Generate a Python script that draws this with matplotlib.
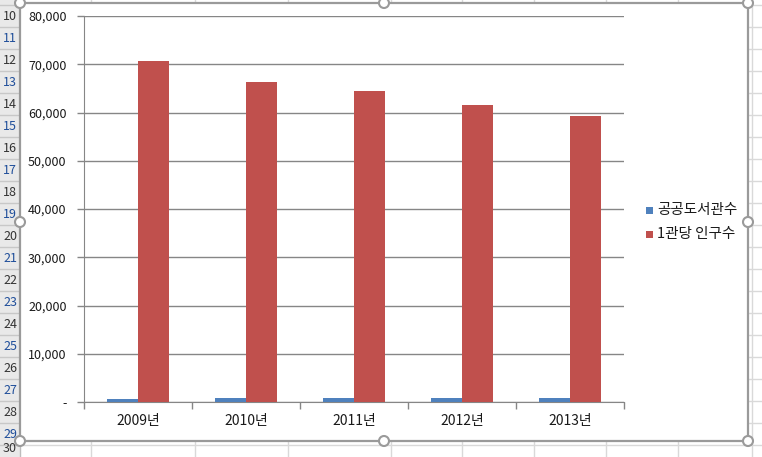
import matplotlib
matplotlib.use("Agg")
import matplotlib.pyplot as plt
from matplotlib.patches import Rectangle, Circle
from matplotlib.lines import Line2D
import numpy as np

plt.rcParams['font.family'] = ['Noto Sans CJK KR', 'DejaVu Sans']

categories = ['2009년', '2010년', '2011년', '2012년', '2013년']
libraries = [703, 759, 786, 828, 865]
pop_per_library = [70670, 66390, 64550, 61490, 59245]
series_names = ['공공도서관수', '1관당 인구수']
colors = ['#4F81BD', '#C0504D']
yticks = [0, 10000, 20000, 30000, 40000, 50000, 60000, 70000, 80000]
row_numbers = list(range(10, 31))

W, H = 762, 457
fig = plt.figure(figsize=(W / 100, H / 100), dpi=100)
fig.patch.set_facecolor('white')

# background layer in pixel coordinates (y downward)
bg = fig.add_axes([0, 0, 1, 1])
bg.set_xlim(0, W)
bg.set_ylim(H, 0)
bg.axis('off')

# spreadsheet cell grid
cell_grid = '#d9d9d9'
for x in [91, 195, 288, 391, 462, 534, 606, 678, 752]:
    bg.add_line(Line2D([x, x], [0, H], color=cell_grid, lw=1, zorder=0))
for i in range(len(row_numbers) + 1):
    y = 5 + 22 * i
    bg.add_line(Line2D([0, W], [y, y], color=cell_grid, lw=1, zorder=0))

# row header column
bg.add_patch(Rectangle((0, 0), 20, H, facecolor='#e9e9e9', edgecolor='none', zorder=1))
bg.add_line(Line2D([20, 20], [0, H], color='#bdbdbd', lw=1, zorder=2))
for i, r in enumerate(row_numbers):
    y0 = 5 + 22 * i
    bg.add_line(Line2D([0, 20], [y0, y0], color='#c8c8c8', lw=1, zorder=2))
    yc = min(y0 + 11, H - 8)
    bg.text(17, yc, str(r), ha='right', va='center', fontsize=9,
            color='#1f4e9a' if i % 2 else '#333333', zorder=3, clip_on=True)

# chart area
bg.add_patch(Rectangle((20, 3), 728, 438, facecolor='white', edgecolor='#9a9a9a', lw=1.6, zorder=4))
for (hx, hy) in [(20, 3), (384, 3), (748, 3), (20, 222), (748, 222), (20, 441), (384, 441), (748, 441)]:
    bg.add_patch(Circle((hx, hy), 5, facecolor='white', edgecolor='#9a9a9a', lw=1.5, zorder=5))

# legend (manual, Excel style)
for k, (name, c) in enumerate(zip(series_names, colors)):
    ly = 210 + 24 * k
    bg.add_patch(Rectangle((646, ly - 3.5), 7, 7, facecolor=c, edgecolor='none', zorder=6))
    bg.text(657, ly, name, ha='left', va='center', fontsize=10.5, color='#1a1a1a', zorder=6)

# plot area
ax = fig.add_axes([84 / W, 1 - 402 / H, (624 - 84) / W, (402 - 16) / H])
ax.set_zorder(10)
ax.patch.set_alpha(0)

x = np.arange(len(categories))
bw = 1 / 3.5
ax.bar(x - bw / 2, libraries, width=bw, color=colors[0], zorder=3)
ax.bar(x + bw / 2, pop_per_library, width=bw, color=colors[1], zorder=3)

ax.set_xlim(-0.5, len(categories) - 0.5)
ax.set_ylim(0, 80000)
ax.set_yticks(yticks)
ax.set_yticklabels(['-'] + [f'{v:,}' for v in yticks[1:]])
ax.yaxis.grid(True, color='#868686', lw=1)
ax.set_axisbelow(True)

ax.set_xticks(x)
ax.set_xticklabels(categories)
ax.set_xticks(np.arange(-0.5, len(categories)), minor=True)
ax.tick_params(axis='x', which='major', length=0, pad=9, labelsize=10, colors='#1a1a1a')
ax.tick_params(axis='x', which='minor', length=5, color='#868686', width=1)
ax.tick_params(axis='y', length=5, color='#868686', width=1, pad=7.5, labelsize=9, labelcolor='#1a1a1a')

for s in ['top', 'right']:
    ax.spines[s].set_visible(False)
ax.spines['left'].set_color('#868686')
ax.spines['bottom'].set_color('#868686')

fig.savefig('out.png', dpi=100)
